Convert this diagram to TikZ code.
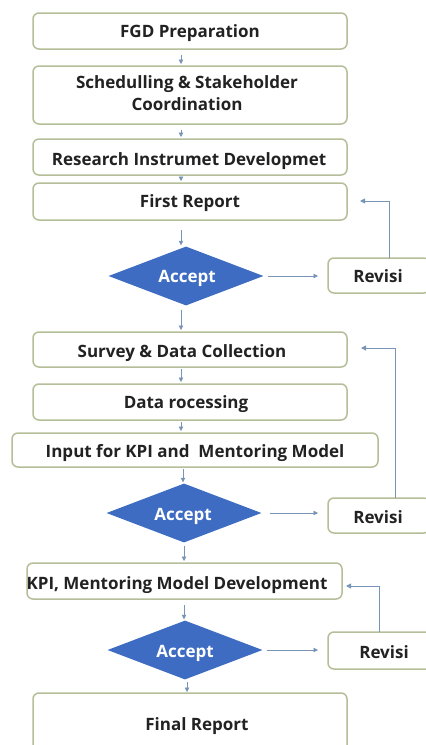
\documentclass[tikz,border=0pt]{standalone}
\usepackage{fontspec}
\setmainfont{Open Sans}
\usetikzlibrary{shapes.geometric,arrows.meta,calc}
\definecolor{boxline}{RGB}{180,190,152}
\definecolor{dblue}{RGB}{61,108,194}
\definecolor{arrcol}{RGB}{120,148,182}
\definecolor{txt}{RGB}{34,34,34}
\tikzset{
  box/.style={draw=boxline, line width=1.5pt, rounded corners=6pt, fill=white},
  boxtext/.style={font=\bfseries\fontsize{17}{22}\selectfont, text=txt, align=center, inner sep=0pt, anchor=base},
  dec/.style={shape=diamond, fill=dblue, draw=none, inner sep=0pt, aspect=2.6,
    minimum width=155pt, minimum height=59pt},
  dectext/.style={font=\bfseries\fontsize{17}{20}\selectfont, text=white, inner sep=0pt, anchor=base},
  arr/.style={draw=arrcol, line width=0.7pt, -{Triangle[length=4.5pt,width=4.5pt]}},
  fb/.style={draw=arrcol, line width=0.9pt, -{Triangle[length=5pt,width=5pt]}}
}
\begin{document}
\begin{tikzpicture}[x=1pt,y=-1pt]
\useasboundingbox (0,0) rectangle (426,745);
\clip (0,0) rectangle (426,745);
% boxes
\draw[box] (33,13) rectangle (347,49);
\node[boxtext] (fgd) at (190,37) {FGD Preparation};
\draw[box] (33,66) rectangle (347,124);
\node[boxtext, anchor=north] (sch) at (187,75) {Schedulling \& Stakeholder\\Coordination};
\draw[box] (33,139) rectangle (347,175);
\node[boxtext] (res) at (189,165) {Research Instrumet Developmet};
\draw[box] (33,183) rectangle (347,220);
\node[boxtext] (fr) at (190,207) {First Report};
\node[dec] (d1) at (186,276) {};
\node[dectext] (a1) at (187,282) {Accept};
\draw[box] (328,258) rectangle (430,293);
\node[boxtext] (r1) at (378,282) {Revisi};
\draw[box] (33,332) rectangle (347,367);
\node[boxtext] (sur) at (182,357) {Survey \& Data Collection};
\draw[box] (33,384) rectangle (347,420);
\node[boxtext] (dp) at (186,408) {Data rocessing};
\draw[box] (12,433) rectangle (378,467);
\node[boxtext] (inp) at (195,457) {Input for KPI and~~Mentoring Model};
\node[dec] (d2) at (184,513) {};
\node[dectext] (a2) at (183,520) {Accept};
\draw[box] (328,498) rectangle (430,533);
\node[boxtext] (r2) at (378,523) {Revisi};
\draw[box] (27,563) rectangle (342,599);
\node[boxtext] (kpi) at (177,589) {KPI, Mentoring Model Development};
\node[dec] (d3) at (185,650) {};
\node[dectext] (a3) at (185,657) {Accept};
\draw[box] (328,632) rectangle (440,669);
\node[boxtext] (r3) at (384,658) {Revisi};
\draw[box] (33,693) rectangle (347,760);
\node[boxtext] (fin) at (197,730) {Final Report};
% named anchor points
\coordinate (fgdS) at (181,49); \coordinate (schN) at (181,64);
\coordinate (schS) at (181,124); \coordinate (resN) at (181,137);
\coordinate (resS) at (181,175); \coordinate (frN) at (181,181);
\coordinate (frS) at (181,220); \coordinate (frE) at (347,201);
\coordinate (surN) at (181,330); \coordinate (surS) at (181,367);
\coordinate (surE) at (347,348);
\coordinate (dpN) at (181,382); \coordinate (dpS) at (181,420);
\coordinate (inpN) at (181,431); \coordinate (inpS) at (183,467);
\coordinate (kpiN) at (184,561); \coordinate (kpiS) at (184,599);
\coordinate (kpiE) at (342,586);
\coordinate (finN) at (187,692);
\coordinate (r1W) at (328,276); \coordinate (r1N) at (389,258);
\coordinate (r2W) at (328,513); \coordinate (r2N) at (395,498);
\coordinate (r3W) at (328,650); \coordinate (r3N) at (379,632);
% vertical arrows
\draw[arr, shorten <=6pt] (fgdS) -- (schN);
\draw[arr, shorten <=6pt] (schS) -- (resN);
\draw[arr, shorten <=2pt] (resS) -- (frN);
\draw[arr, shorten <=10pt, shorten >=1pt] (frS) -- (d1.north -| frS);
\draw[arr, shorten <=4pt] (d1.south -| surN) -- (surN);
\draw[arr, shorten <=2pt] (surS) -- (dpN);
\draw[arr, shorten <=2pt] (dpS) -- (inpN);
\draw[arr, shorten <=2pt, shorten >=1pt] (inpS) -- (d2.north -| inpS);
\draw[arr, shorten <=3pt] (d2.south -| kpiN) -- (kpiN);
\draw[arr, shorten <=6pt, shorten >=1pt] (kpiS) -- (d3.north -| kpiS);
\draw[arr, shorten <=2pt] (d3.south -| finN) -- (finN);
% to Revisi
\draw[arr, shorten <=4pt, shorten >=10pt] (d1.east) -- (r1W);
\draw[arr, shorten <=8pt, shorten >=10pt] (d2.east) -- (r2W);
\draw[arr, shorten <=4pt, shorten >=10pt] (d3.east) -- (r3W);
% feedback
\draw[fb, shorten >=13pt] (r1N) |- (frE);
\draw[fb, shorten >=14pt] (r2N) |- (surE);
\draw[fb, shorten >=4pt] (r3N) |- (kpiE);
\end{tikzpicture}
\end{document}
